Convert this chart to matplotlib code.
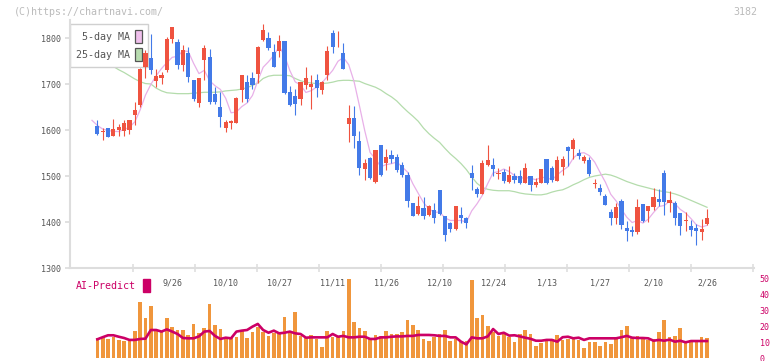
import numpy as np
import matplotlib.pyplot as plt
from matplotlib.patches import Patch

# ---- data (daily candles, oldest first) ----
opens = [1608, 1609, 1596, 1604, 1588, 1599, 1597, 1599, 1633, 1655,
         1737, 1757, 1707, 1713, 1730, 1797, 1791, 1742, 1767, 1708,
         1659, 1752, 1759, 1679, 1650, 1604, 1615, 1616, 1686, 1704,
         1712, 1722, 1795, 1800, 1770, 1771, 1793, 1683, 1674, 1668,
         1697, 1693, 1708, 1688, 1720, 1811, 1799, 1767, 1614, 1626,
         1576, 1516, 1539, 1487, 1567, 1529, 1545, 1541, 1523, 1502,
         1441, 1417, 1430, 1415, 1426, 1470, 1412, 1398, 1385, 1415,
         1409, 1507, 1472, 1461, 1524, 1524, 1505, 1509, 1488, 1500,
         1500, 1484, 1500, 1480, 1484, 1538, 1517, 1490, 1520, 1564,
         1559, 1551, 1533, 1535, 1483, 1475, 1457, 1422, 1408, 1446,
         1388, 1383, 1379, 1439, 1425, 1433, 1449, 1507, 1442, 1442,
         1419, 1403, 1391, 1386, 1378, 1396]
highs = [1608, 1621, 1604, 1604, 1623, 1614, 1621, 1621, 1661, 1735,
         1773, 1809, 1733, 1727, 1803, 1824, 1798, 1785, 1780, 1708,
         1713, 1785, 1777, 1693, 1683, 1622, 1622, 1672, 1720, 1719,
         1726, 1782, 1831, 1813, 1788, 1807, 1793, 1696, 1690, 1704,
         1737, 1719, 1722, 1707, 1783, 1817, 1815, 1789, 1654, 1652,
         1598, 1538, 1541, 1556, 1568, 1559, 1556, 1547, 1530, 1509,
         1441, 1457, 1454, 1437, 1441, 1470, 1413, 1401, 1435, 1432,
         1410, 1525, 1477, 1535, 1567, 1540, 1518, 1515, 1522, 1507,
         1513, 1529, 1500, 1496, 1515, 1538, 1522, 1543, 1543, 1566,
         1583, 1559, 1545, 1541, 1493, 1483, 1461, 1428, 1441, 1451,
         1402, 1391, 1449, 1439, 1435, 1473, 1471, 1513, 1467, 1446,
         1420, 1422, 1404, 1396, 1406, 1428]
lows = [1608, 1590, 1578, 1584, 1588, 1588, 1587, 1591, 1610, 1650,
        1712, 1722, 1693, 1700, 1727, 1790, 1733, 1729, 1704, 1662,
        1650, 1708, 1657, 1657, 1607, 1596, 1603, 1616, 1660, 1661,
        1690, 1702, 1793, 1773, 1737, 1759, 1679, 1652, 1632, 1655,
        1690, 1646, 1672, 1678, 1708, 1768, 1780, 1733, 1575, 1561,
        1503, 1491, 1494, 1485, 1501, 1512, 1529, 1509, 1498, 1433,
        1413, 1415, 1407, 1413, 1398, 1416, 1359, 1379, 1383, 1397,
        1388, 1470, 1454, 1461, 1522, 1501, 1493, 1485, 1485, 1484,
        1482, 1484, 1468, 1476, 1484, 1482, 1487, 1490, 1502, 1522,
        1536, 1536, 1528, 1499, 1473, 1459, 1437, 1393, 1396, 1385,
        1359, 1370, 1375, 1399, 1401, 1426, 1435, 1415, 1422, 1393,
        1372, 1381, 1370, 1350, 1361, 1393]
closes = [1608, 1592, 1597, 1585, 1603, 1606, 1615, 1621, 1643, 1733,
          1767, 1731, 1717, 1720, 1798, 1824, 1742, 1775, 1715, 1668,
          1713, 1778, 1661, 1661, 1628, 1617, 1620, 1670, 1719, 1668,
          1698, 1780, 1817, 1779, 1738, 1793, 1681, 1654, 1657, 1704,
          1712, 1701, 1692, 1704, 1771, 1780, 1800, 1733, 1626, 1588,
          1518, 1528, 1496, 1556, 1503, 1541, 1538, 1514, 1503, 1446,
          1414, 1435, 1412, 1435, 1409, 1417, 1372, 1384, 1435, 1409,
          1398, 1495, 1461, 1529, 1535, 1515, 1507, 1490, 1502, 1491,
          1484, 1517, 1480, 1488, 1515, 1484, 1491, 1535, 1536, 1555,
          1578, 1543, 1541, 1504, 1485, 1466, 1437, 1409, 1432, 1393,
          1381, 1379, 1432, 1403, 1435, 1454, 1444, 1444, 1448, 1409,
          1392, 1405, 1383, 1381, 1385, 1409]

ma5 = [1621, 1610, 1602, 1599, 1597.0, 1596.6, 1601.2, 1606.0, 1617.6, 1643.6,
       1675.8, 1699.0, 1718.2, 1733.6, 1746.6, 1758.0, 1760.2, 1771.8, 1770.8, 1744.8,
       1722.6, 1729.8, 1707.0, 1696.2, 1688.2, 1669.0, 1637.4, 1639.2, 1650.8, 1658.8,
       1675.0, 1707.0, 1736.4, 1748.4, 1762.4, 1781.4, 1761.6, 1729.0, 1704.6, 1697.8,
       1681.6, 1685.6, 1693.2, 1702.6, 1716.0, 1729.6, 1749.4, 1757.6, 1742.0, 1705.4,
       1653.0, 1598.6, 1551.2, 1537.2, 1520.2, 1524.8, 1526.8, 1530.4, 1519.8, 1508.4,
       1483.0, 1462.4, 1442.0, 1428.4, 1421.0, 1421.6, 1409.0, 1403.4, 1403.4, 1403.4,
       1399.6, 1424.2, 1439.6, 1458.4, 1483.6, 1507.0, 1509.4, 1515.2, 1509.8, 1501.0,
       1494.8, 1496.8, 1494.8, 1492.0, 1496.8, 1496.8, 1491.6, 1502.6, 1512.2, 1520.2,
       1539.0, 1549.4, 1550.6, 1544.2, 1530.2, 1507.8, 1486.6, 1460.2, 1445.8, 1427.4,
       1410.4, 1398.8, 1403.4, 1397.6, 1406.0, 1420.6, 1433.6, 1436.0, 1445.0, 1439.8,
       1427.4, 1419.6, 1407.4, 1394.0, 1389.2, 1392.6]
ma25 = [1760, 1755, 1750, 1744, 1738, 1731, 1725, 1718, 1711, 1705,
        1701, 1700, 1691, 1685, 1681, 1680, 1679, 1679, 1679, 1680,
        1681, 1682, 1682, 1682, 1683, 1685, 1686, 1687, 1689, 1692,
        1697, 1702, 1712, 1717, 1719, 1719, 1719, 1718, 1712, 1707,
        1704, 1702, 1701, 1701, 1702, 1704, 1707, 1708, 1708, 1707,
        1706, 1701, 1697, 1693, 1687, 1679, 1672, 1663, 1651, 1640,
        1630, 1619, 1604, 1592, 1582, 1573, 1560, 1548, 1538, 1527,
        1514, 1498, 1484, 1475, 1471, 1469, 1468, 1468, 1468, 1466,
        1463, 1461, 1460, 1459, 1459, 1461, 1465, 1468, 1470, 1475,
        1481, 1486, 1492, 1497, 1500, 1502, 1504, 1502, 1498, 1493,
        1488, 1484, 1480, 1477, 1474, 1471, 1468, 1466, 1464, 1461,
        1457, 1452, 1447, 1442, 1437, 1432]

# lower panel (from 2nd day on)
volume = [12.7, 12.9, 11.9, 12.9, 11.3, 10.8, 10.6, 17.1, 35.2, 25.2,
          32.7, 17.1, 17.1, 25.2, 19.6, 17.5, 17.5, 14.4, 21.3, 15.4,
          19.0, 34.0, 20.6, 18.1, 12.3, 12.9, 13.3, 16.9, 12.7, 16.5,
          19.6, 16.5, 14.0, 15.4, 15.8, 25.8, 15.4, 29.0, 13.8, 13.3,
          14.4, 11.7, 7.1, 17.1, 13.3, 12.9, 17.1, 49.4, 22.3, 19.0,
          17.1, 12.3, 14.4, 13.8, 17.1, 15.0, 14.8, 16.5, 23.8, 20.6,
          17.5, 11.9, 10.6, 13.3, 15.0, 17.5, 10.6, 11.9, 10.6, 10.8,
          48.8, 25.2, 26.9, 20.0, 16.0, 13.8, 14.8, 12.9, 10.0, 15.0,
          17.5, 15.0, 7.5, 9.4, 11.3, 11.9, 14.4, 11.3, 11.9, 11.9,
          11.3, 6.5, 10.0, 10.0, 7.5, 10.0, 8.8, 13.3, 17.5, 20.0,
          12.9, 13.8, 11.9, 11.3, 11.9, 16.5, 23.8, 13.1, 13.8, 18.8,
          9.4, 11.3, 11.3, 13.1, 12.5]
ai_predict = [11.7, 13.0, 14.2, 14.2, 13.3, 12.5, 11.3, 11.3, 11.9, 12.1,
              17.5, 17.5, 16.5, 17.9, 16.5, 15.0, 12.5, 12.3, 12.3, 13.5,
              16.5, 16.9, 13.8, 11.9, 12.7, 12.3, 16.5, 17.1, 17.5, 19.6,
              21.3, 17.5, 15.8, 17.1, 15.4, 15.8, 16.5, 15.4, 15.0, 12.7,
              12.9, 12.9, 12.9, 12.9, 15.0, 13.3, 13.8, 12.9, 12.9, 13.3,
              13.3, 11.9, 11.9, 12.9, 12.9, 13.3, 13.5, 13.5, 13.8, 13.8,
              14.4, 14.4, 14.4, 14.2, 13.8, 13.8, 12.9, 12.9, 10.2, 8.5,
              12.9, 12.3, 12.3, 13.5, 18.1, 15.0, 15.8, 14.0, 14.2, 13.5,
              12.7, 12.0, 10.8, 10.8, 11.3, 11.3, 10.2, 13.0, 13.3, 12.3,
              12.7, 11.3, 12.3, 12.3, 12.3, 12.3, 12.3, 12.3, 13.0, 13.8,
              12.7, 12.5, 12.5, 12.3, 10.8, 11.3, 10.8, 11.5, 10.2, 10.8,
              9.8, 10.6, 10.6, 10.6, 10.6]

date_labels = ["9/26", "10/10", "10/27", "11/11", "11/26", "12/10",
               "12/24", "1/13", "1/27", "2/10", "2/26"]
code = "3182"

# ---- drawing ----
MONO = "DejaVu Sans Mono"
RED, BLUE = "#ef5340", "#437ae8"
GRID = "#dddddd"
MAG = "#cc0066"

o = np.array(opens); h = np.array(highs); l = np.array(lows); c = np.array(closes)
x = np.arange(len(c))
up = c >= o

fig = plt.figure(figsize=(7.72, 3.61), dpi=100)
W, H = 772, 361
ax = fig.add_axes([70 / W, 1 - 268 / H, (754 - 70) / W, (268 - 20) / H])
ax2 = fig.add_axes([70 / W, 1 - 358 / H, (754 - 70) / W, (358 - 268) / H])

xlim = ((70 - 92) / 5.348, (754 - 92) / 5.348)

# moving averages (behind legend and candles)
ax.plot(x, ma25, color="#b4dcac", lw=0.9, zorder=1)
ax.plot(x, ma5, color="#e8b0e8", lw=0.9, zorder=1)

# candles
col = np.where(up, RED, BLUE)
ax.vlines(x, l, h, colors=col, lw=0.8, zorder=3)
body = np.maximum(np.abs(c - o), 1.3)
ax.bar(x, body, bottom=np.minimum(o, c), width=0.78, color=col, lw=0, zorder=3)

ax.set_xlim(xlim)
ax.set_ylim(1300, 1800 + 18 / 0.46)
ax.set_yticks([1300, 1400, 1500, 1600, 1700, 1800])
ax.tick_params(axis="y", length=3.6, width=1.1, color="#d8d8d8",
               labelcolor="#555555", labelsize=6, pad=3)
for t in ax.get_yticklabels():
    t.set_family(MONO)
ax.set_xticks(np.arange(15, len(c), 10))
ax.set_xticklabels(date_labels, family=MONO, fontsize=6, color="#555555")
ax.tick_params(axis="x", which="major", length=0, pad=7.5)
ax.set_xticks(np.arange(7.65, 124, 11.6), minor=True)
ax.tick_params(axis="x", which="minor", direction="inout", length=6,
               width=1.1, color=GRID)
for s in ["top", "right"]:
    ax.spines[s].set_visible(False)
for s in ["left", "bottom"]:
    ax.spines[s].set_color(GRID)
    ax.spines[s].set_linewidth(1.5)

handles = [Patch(fc="#f0c0ec", ec="#555555", lw=0.9),
           Patch(fc="#b8dcb0", ec="#555555", lw=0.9)]
leg = ax.legend(handles, [" 5-day MA", "25-day MA"], loc="upper left",
                bbox_to_anchor=(0, 1 - 4 / 248), borderaxespad=0,
                markerfirst=False, handlelength=0.7, handleheight=1.7,
                handletextpad=0.55, labelspacing=0.45, borderpad=0.55,
                fancybox=False, edgecolor="#d0d0d0", framealpha=1,
                prop={"family": MONO, "size": 7.2})
leg.get_frame().set_linewidth(1.0)
for t in leg.get_texts():
    t.set_color("#555555")
leg.set_zorder(2)

# lower panel: bars + AI line
xv = x[1:]
ax2.bar(xv, volume, width=0.68, color="#f0963c", lw=0, zorder=2)
ax2.plot(xv, ai_predict, color=MAG, lw=1.9, zorder=3)
ax2.set_xlim(xlim)
ax2.set_ylim(0, 90 / 1.6)
ax2.patch.set_visible(False)
for s in ax2.spines.values():
    s.set_visible(False)
ax2.set_xticks([])
ax2.yaxis.tick_right()
ax2.set_yticks([0, 10, 20, 30, 40, 50])
ax2.tick_params(axis="y", length=0, labelcolor=MAG, labelsize=6, pad=4)
for t in ax2.get_yticklabels():
    t.set_family(MONO)
leg2 = ax2.legend([Patch(fc=MAG, ec=MAG)], ["AI-Predict"], loc="upper left",
                  bbox_to_anchor=(3 / 684, 1 - 8 / 90), borderaxespad=0,
                  markerfirst=False, handlelength=0.7, handleheight=1.6,
                  handletextpad=0.7, borderpad=0.3, frameon=False,
                  prop={"family": MONO, "size": 7.2})
for t in leg2.get_texts():
    t.set_color(MAG)

fig.text(14 / W, 1 - 12 / H, "(C)https://chartnavi.com/", family=MONO,
         fontsize=7.2, color="#bbbbbb", va="center")
fig.text(757 / W, 1 - 12 / H, code, family=MONO, fontsize=7.2,
         color="#bbbbbb", va="center", ha="right")

fig.savefig("out.png", dpi=100)
